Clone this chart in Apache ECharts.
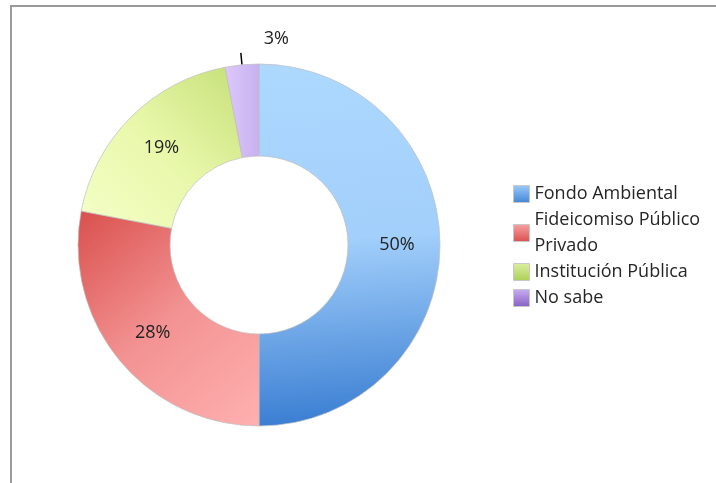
<!DOCTYPE html>
<html>
<head>
<meta charset="utf-8">
<script src="https://cdn.jsdelivr.net/npm/echarts@6/dist/echarts.min.js"></script>
<style>
  html, body { margin: 0; padding: 0; overflow: hidden; background: #fff; }
  #chart { position: absolute; left: 0; top: 0; width: 716px; height: 483px; }
  .frame {
    position: absolute; left: 10px; top: 5px; right: -20px; bottom: -20px;
    border-left: 2px solid #9a9a9a; border-top: 2px solid #9a9a9a;
    pointer-events: none;
  }
</style>
</head>
<body>
<div id="chart"></div>
<div class="frame"></div>
<script>
// datos del gráfico
const categories = ['Fondo Ambiental', 'Fideicomiso Público Privado', 'Institución Pública', 'No sabe']
const values = [50, 28, 19, 3]
const labels = ['50%', '28%', '19%', '3%']

const grad = (x, y, x2, y2, c1, c2, c3) => new echarts.graphic.LinearGradient(x, y, x2, y2,
  c3 ? [{ offset: 0, color: c1 }, { offset: 0.5, color: c2 }, { offset: 1, color: c3 }]
     : [{ offset: 0, color: c1 }, { offset: 1, color: c2 }])

// colores de los sectores
const sliceColors = [
  grad(0, 0, 0.15, 1, '#add9ff', '#a2cffb', '#3a7ed2'),
  grad(0, 0, 1, 1, '#d9504d', '#f39292', '#ffb0b0'),
  grad(1, 0, 0, 1, '#c6df78', '#e8f8aa', '#f4ffc8'),
  grad(0, 0, 1, 0, '#dcc9fb', '#c8b0f0')
]
// colores de la leyenda
const legendColors = [
  grad(0, 0, 0, 1, '#9ccbfa', '#4285d6'),
  grad(0, 0, 0, 1, '#f7a3a3', '#d9504d'),
  grad(0, 0, 0, 1, '#dcf0a0', '#abcf55'),
  grad(0, 0, 0, 1, '#c9aef2', '#8560c4')
]

const chart = echarts.init(document.getElementById('chart'))
const option = {
  animation: false,
  textStyle: { fontFamily: 'Open Sans' },
  legend: {
    orient: 'vertical',
    left: 508,
    top: 176,
    itemGap: 0,
    itemWidth: 16,
    itemHeight: 17,
    selectedMode: false,
    data: categories.map((c, i) => ({
      name: c,
      icon: 'rect',
      itemStyle: { color: legendColors[i], borderColor: '#c8c8c8', borderWidth: 1 }
    })),
    formatter: function (name) {
      return name === 'Fideicomiso Público Privado' ? 'Fideicomiso Público\nPrivado' : name
    },
    textStyle: { fontSize: 18, lineHeight: 26, color: '#262626' }
  },
  series: [
    {
      type: 'pie',
      center: [259, 245],
      radius: [89, 181],
      startAngle: 90,
      clockwise: true,
      silent: true,
      itemStyle: { borderColor: 'rgba(190,190,190,0.7)', borderWidth: 1 },
      label: {
        show: true,
        position: 'inside',
        fontSize: 18,
        color: '#222',
        formatter: p => labels[p.dataIndex]
      },
      labelLine: { show: false },
      labelLayout: function (params) {
        if (params.dataIndex === 3) {
          return { dx: 53, dy: -14, labelLinePoints: params.labelLinePoints }
        }
      },
      data: categories.map((c, i) => {
        const d = { name: c, value: values[i], itemStyle: { color: sliceColors[i] } }
        if (i === 3) {
          d.label = { position: 'outside' }
          d.labelLine = { show: true, length: 12, length2: 0, lineStyle: { color: '#000', width: 1.5 } }
        }
        return d
      })
    }
  ]
}
chart.setOption(option)
</script>
</body>
</html>
